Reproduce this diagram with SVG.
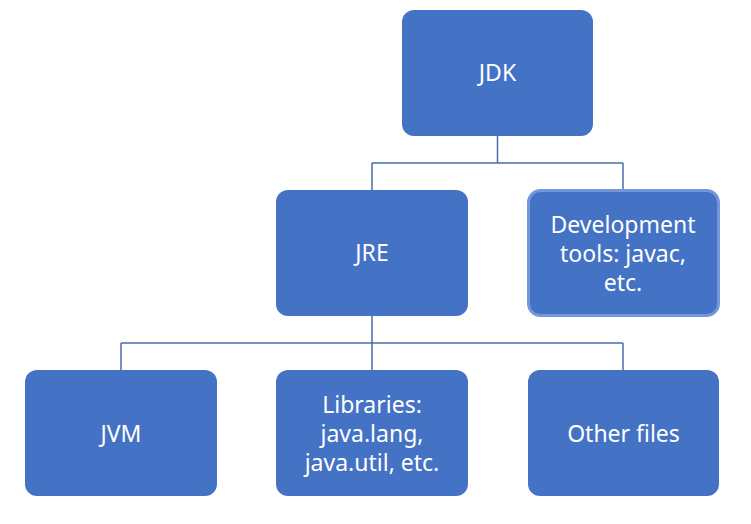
<svg xmlns="http://www.w3.org/2000/svg" width="751" height="524" viewBox="0 0 751 524">
<style>
.box{fill:#4472C4;}
.sel{stroke:#7397DA;stroke-width:3;}
.t{font-family:"Noto Sans","Open Sans",sans-serif;font-size:23px;fill:#ffffff;text-anchor:middle;}
.c{fill:none;stroke:#4A6CAE;stroke-width:1.5;}
</style>
<rect width="751" height="524" fill="#ffffff"/>
<g id="connectors">
<path class="c" d="M497.5 136V163M372 163H623M372 163V190M623 163V190"/>
<path class="c" d="M372 316V343M121 343H623M121 343V370M372 343V370M623 343V370"/>
</g>
<g id="jdk"><rect class="box" x="402" y="10" width="191" height="126" rx="12"/><text class="t" x="497.5" y="81">JDK</text></g>
<g id="jre"><rect class="box" x="276" y="190" width="192" height="126" rx="12"/><text class="t" x="372" y="261">JRE</text></g>
<g id="devtools"><rect class="box sel" x="528.5" y="190.5" width="190" height="125" rx="12"/><text class="t" x="623" y="233">Development</text><text class="t" x="623" y="262">tools: javac,</text><text class="t" x="623" y="291">etc.</text></g>
<g id="jvm"><rect class="box" x="25" y="370" width="192" height="126" rx="12"/><text class="t" x="121" y="442">JVM</text></g>
<g id="libraries"><rect class="box" x="276" y="370" width="192" height="126" rx="12"/><text class="t" x="372" y="413">Libraries:</text><text class="t" x="372" y="442">java.lang,</text><text class="t" x="372" y="471">java.util, etc.</text></g>
<g id="other"><rect class="box" x="528" y="370" width="191" height="126" rx="12"/><text class="t" x="623.5" y="442">Other files</text></g>
</svg>
